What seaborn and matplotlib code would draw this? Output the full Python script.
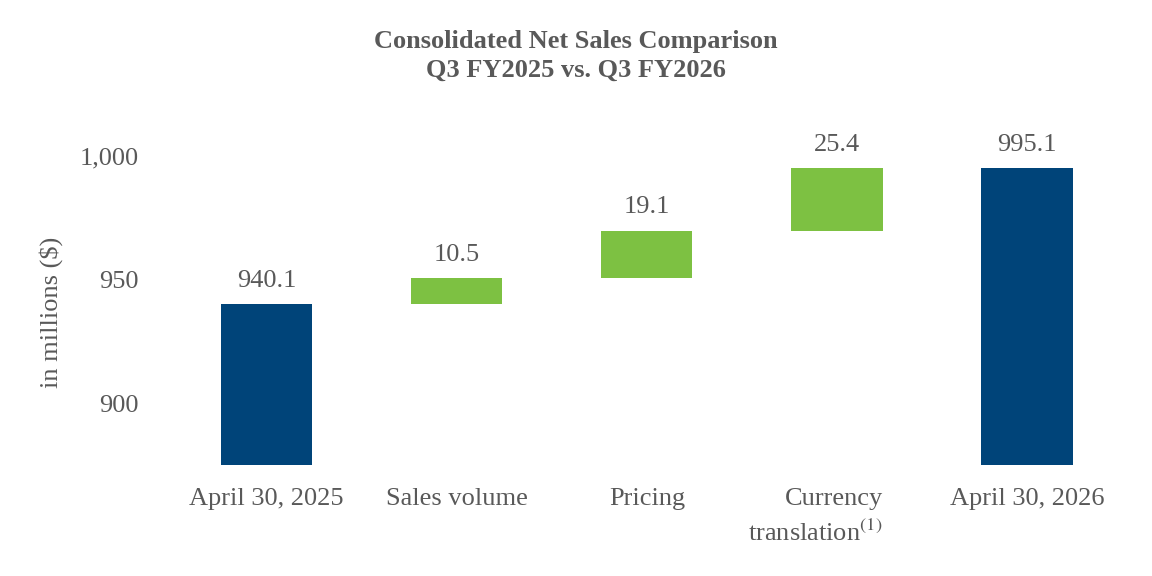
import matplotlib
matplotlib.use("Agg")
import matplotlib.pyplot as plt
import matplotlib.transforms as mtransforms
import seaborn as sns
import pandas as pd
import numpy as np

categories = ["April 30, 2025", "Sales volume", "Pricing",
              "Currency\ntranslation$^{(1)}$", "April 30, 2026"]
changes = [940.1, 10.5, 19.1, 25.4, 995.1]
labels = ["940.1", "10.5", "19.1", "25.4", "995.1"]
kinds = ["total", "delta", "delta", "delta", "total"]

BLUE = "#004479"
GREEN = "#7DC142"
GRAY = "#595959"

# waterfall bottoms
bottoms = []
running = 0.0
for v, k in zip(changes, kinds):
    if k == "total":
        bottoms.append(875.0)
        running = v
    else:
        bottoms.append(running)
        running += v
heights = [(v - 875.0) if k == "total" else v for v, k in zip(changes, kinds)]

df = pd.DataFrame({"cat": categories, "height": heights})

sns.set_theme(style="white")
plt.rcParams["font.family"] = ["Liberation Serif", "DejaVu Serif"]
plt.rcParams["mathtext.fontset"] = "stix"

fig = plt.figure(figsize=(11.52, 5.76), dpi=100)
ax = fig.add_axes([0.149, 0.193, 0.825, 0.596])

sns.barplot(data=df, x="cat", y="height", bottom=bottoms, width=0.48,
            ax=ax, errorbar=None, order=categories, color=BLUE, saturation=1)
for p, k in zip(ax.patches, kinds):
    p.set_facecolor(BLUE if k == "total" else GREEN)
    p.set_edgecolor("none")

for i, (b, h, lab) in enumerate(zip(bottoms, heights, labels)):
    ax.annotate(lab, (i, b + h), xytext=(0, 9), textcoords="offset points",
                ha="center", va="bottom", fontsize=19, color=GRAY)

ax.set_ylim(875, 1014)
ax.set_xlim(-0.5, 4.5)
ax.set_yticks([900, 950, 1000])
ax.set_yticklabels(["900", "950", "1,000"])
ax.tick_params(axis="y", labelsize=19, labelcolor=GRAY, length=0, pad=24)
ax.tick_params(axis="x", labelsize=19, labelcolor=GRAY, length=0, pad=17)
ax.set_xlabel("")
ax.set_ylabel("in millions (\\$)", fontsize=19, color=GRAY)
ax.yaxis.set_label_coords(-0.114, 0.445)
for s in ax.spines.values():
    s.set_visible(False)

# "Currency translation" label is right-aligned to the bar's right edge
lbl = ax.get_xticklabels()[3]
lbl.set_horizontalalignment("right")
lbl.set_multialignment("right")
lbl.set_transform(lbl.get_transform() +
                  mtransforms.ScaledTranslation(0.46, 0, fig.dpi_scale_trans))
lbl.set_linespacing(1.45)

fig.text(0.5, 0.903, "Consolidated Net Sales Comparison\nQ3 FY2025 vs. Q3 FY2026",
         ha="center", va="center", fontsize=19, fontweight="bold", color=GRAY,
         linespacing=1.35)

fig.savefig("out.png", dpi=100)
